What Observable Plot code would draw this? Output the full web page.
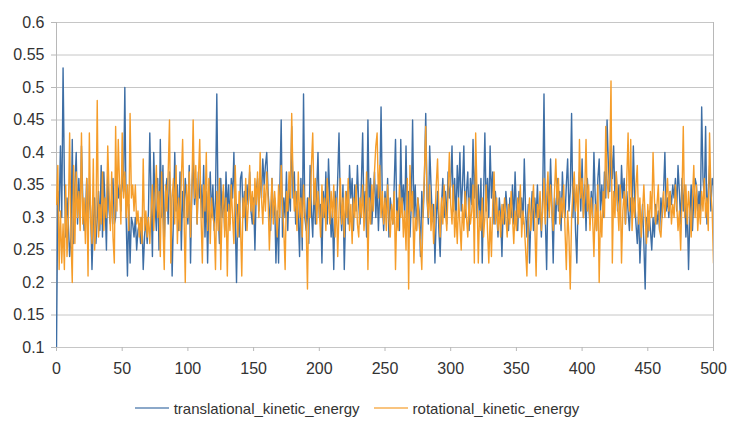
<!DOCTYPE html>
<html>
<head>
<meta charset="utf-8">
<script src="https://cdn.jsdelivr.net/npm/d3@7"></script>
<script src="https://cdn.jsdelivr.net/npm/@observablehq/plot@0.6"></script>
<style>
  html, body { margin: 0; padding: 0; background: #fff; }
  body { width: 740px; height: 421px; overflow: hidden; font-family: "Liberation Sans", Arial, sans-serif; }
  #legend { display: flex; justify-content: center; align-items: center; gap: 14px; height: 20px; margin-top: 15px; padding-right: 26px; font-size: 15px; color: #333; }
  #legend .item { display: flex; align-items: center; gap: 5px; }
  #legend .swatch { width: 34px; height: 2px; opacity: 0.6; }
</style>
</head>
<body>
<div id="chart"></div>
<div id="legend"></div>
<script>
const seriesNames = ["translational_kinetic_energy", "rotational_kinetic_energy"];
const seriesColors = ["#3d6ea5", "#f59d2a"];
const xTicks = [0, 50, 100, 150, 200, 250, 300, 350, 400, 450, 500];
const yTicks = [0.1, 0.15, 0.2, 0.25, 0.3, 0.35, 0.4, 0.45, 0.5, 0.55, 0.6];

const translational = [
0.10,0.34,0.31,0.41,0.30,0.53,0.36,0.27,0.33,0.29,
0.24,0.27,0.42,0.26,0.35,0.40,0.29,0.36,0.30,0.41,
0.33,0.28,0.30,0.36,0.27,0.35,0.31,0.22,0.29,0.33,
0.26,0.30,0.34,0.28,0.38,0.27,0.37,0.32,0.25,0.37,
0.31,0.29,0.33,0.36,0.29,0.30,0.37,0.33,0.35,0.31,
0.37,0.34,0.50,0.30,0.21,0.32,0.23,0.30,0.29,0.27,
0.30,0.25,0.28,0.29,0.26,0.30,0.22,0.27,0.30,0.26,
0.31,0.43,0.33,0.24,0.40,0.32,0.28,0.36,0.25,0.42,
0.30,0.38,0.26,0.34,0.36,0.29,0.37,0.33,0.21,0.30,
0.40,0.31,0.35,0.28,0.37,0.25,0.34,0.30,0.36,0.33,
0.29,0.38,0.23,0.34,0.39,0.32,0.36,0.29,0.37,0.33,
0.35,0.30,0.38,0.27,0.34,0.23,0.33,0.37,0.30,0.35,
0.28,0.33,0.49,0.31,0.26,0.36,0.30,0.34,0.28,0.37,
0.31,0.35,0.29,0.36,0.33,0.40,0.30,0.20,0.32,0.27,
0.36,0.37,0.30,0.34,0.28,0.35,0.32,0.37,0.31,0.29,
0.33,0.25,0.34,0.36,0.31,0.37,0.33,0.39,0.35,0.38,
0.40,0.34,0.31,0.28,0.36,0.30,0.33,0.23,0.31,0.23,
0.35,0.45,0.27,0.33,0.30,0.37,0.28,0.35,0.31,0.44,
0.33,0.37,0.29,0.34,0.30,0.24,0.36,0.25,0.49,0.30,
0.28,0.33,0.26,0.38,0.31,0.27,0.35,0.29,0.34,0.40,
0.30,0.32,0.23,0.34,0.30,0.37,0.29,0.39,0.33,0.27,
0.31,0.22,0.34,0.30,0.36,0.43,0.32,0.28,0.35,0.22,
0.30,0.34,0.29,0.38,0.33,0.36,0.28,0.35,0.31,0.38,
0.32,0.29,0.35,0.43,0.30,0.34,0.27,0.45,0.31,0.36,
0.29,0.33,0.37,0.30,0.35,0.28,0.34,0.47,0.32,0.28,
0.34,0.30,0.36,0.27,0.33,0.31,0.29,0.35,0.42,0.30,
0.33,0.28,0.42,0.31,0.35,0.30,0.41,0.29,0.34,0.27,
0.32,0.45,0.30,0.35,0.28,0.33,0.31,0.24,0.34,0.30,
0.36,0.46,0.33,0.29,0.41,0.35,0.30,0.32,0.23,0.30,
0.34,0.28,0.24,0.32,0.36,0.30,0.34,0.29,0.37,0.33,
0.35,0.41,0.31,0.36,0.29,0.38,0.33,0.40,0.31,0.35,
0.41,0.30,0.34,0.37,0.28,0.36,0.32,0.42,0.33,0.38,
0.30,0.35,0.29,0.36,0.23,0.33,0.43,0.31,0.36,0.30,
0.41,0.33,0.37,0.29,0.34,0.31,0.27,0.33,0.30,0.24,
0.32,0.29,0.34,0.31,0.28,0.33,0.30,0.35,0.29,0.37,
0.31,0.28,0.34,0.30,0.33,0.29,0.39,0.31,0.27,0.32,
0.23,0.30,0.34,0.28,0.33,0.30,0.35,0.29,0.32,0.27,
0.33,0.49,0.30,0.22,0.34,0.31,0.39,0.32,0.23,0.33,
0.29,0.36,0.31,0.34,0.28,0.37,0.32,0.30,0.35,0.39,
0.31,0.34,0.46,0.30,0.36,0.28,0.23,0.33,0.37,0.31,
0.39,0.30,0.35,0.28,0.36,0.32,0.29,0.34,0.30,0.40,
0.33,0.28,0.36,0.39,0.31,0.35,0.30,0.37,0.33,0.45,
0.38,0.34,0.41,0.36,0.41,0.33,0.37,0.31,0.35,0.30,
0.38,0.33,0.36,0.29,0.34,0.31,0.28,0.33,0.30,0.41,
0.33,0.29,0.26,0.31,0.23,0.28,0.32,0.26,0.19,0.30,
0.27,0.31,0.28,0.25,0.30,0.27,0.32,0.29,0.31,0.28,
0.33,0.30,0.34,0.40,0.31,0.33,0.30,0.34,0.32,0.35,
0.33,0.36,0.31,0.38,0.34,0.29,0.36,0.31,0.35,0.27,
0.32,0.22,0.30,0.35,0.28,0.33,0.36,0.35,0.31,0.34,
0.30,0.47,0.36,0.33,0.44,0.29,0.34,0.38,0.31,0.36,0.35
];

const rotational = [
0.32,0.38,0.22,0.31,0.23,0.29,0.22,0.35,0.24,0.30,
0.43,0.27,0.20,0.38,0.26,0.37,0.30,0.34,0.28,0.43,
0.29,0.33,0.26,0.36,0.21,0.43,0.30,0.26,0.39,0.25,
0.29,0.48,0.27,0.32,0.29,0.37,0.28,0.33,0.30,0.41,
0.34,0.28,0.37,0.27,0.23,0.44,0.31,0.42,0.35,0.29,
0.43,0.33,0.37,0.30,0.35,0.28,0.46,0.33,0.35,0.31,
0.35,0.29,0.31,0.27,0.30,0.26,0.39,0.28,0.31,0.27,
0.30,0.26,0.31,0.35,0.28,0.33,0.38,0.30,0.34,0.24,
0.37,0.29,0.22,0.35,0.31,0.37,0.45,0.23,0.33,0.36,
0.29,0.38,0.26,0.33,0.28,0.36,0.42,0.31,0.20,0.35,
0.30,0.37,0.27,0.34,0.45,0.33,0.38,0.29,0.36,0.42,
0.30,0.23,0.35,0.31,0.40,0.28,0.36,0.26,0.33,0.30,
0.29,0.22,0.34,0.28,0.36,0.22,0.31,0.35,0.27,0.33,
0.21,0.32,0.28,0.35,0.30,0.26,0.38,0.31,0.27,0.34,
0.29,0.21,0.33,0.30,0.36,0.28,0.32,0.38,0.31,0.34,
0.29,0.36,0.32,0.37,0.30,0.40,0.33,0.29,0.35,0.31,
0.37,0.33,0.25,0.31,0.36,0.29,0.34,0.31,0.27,0.35,
0.30,0.38,0.32,0.28,0.22,0.34,0.31,0.37,0.33,0.46,
0.36,0.31,0.34,0.28,0.37,0.30,0.33,0.27,0.35,0.31,
0.29,0.19,0.33,0.30,0.38,0.43,0.32,0.36,0.29,0.34,
0.31,0.27,0.35,0.30,0.33,0.28,0.36,0.32,0.29,0.34,
0.30,0.35,0.27,0.33,0.24,0.31,0.36,0.29,0.33,0.27,
0.34,0.30,0.36,0.28,0.32,0.26,0.33,0.30,0.35,0.29,
0.27,0.33,0.30,0.35,0.28,0.31,0.37,0.22,0.33,0.29,
0.35,0.31,0.37,0.41,0.43,0.33,0.38,0.30,0.34,0.29,
0.33,0.28,0.35,0.30,0.27,0.32,0.29,0.34,0.22,0.31,
0.28,0.35,0.30,0.33,0.27,0.31,0.25,0.36,0.19,0.38,
0.31,0.34,0.23,0.30,0.28,0.33,0.29,0.26,0.22,0.31,
0.37,0.44,0.33,0.30,0.35,0.28,0.32,0.26,0.30,0.35,
0.39,0.31,0.27,0.33,0.29,0.35,0.31,0.28,0.34,0.40,
0.32,0.29,0.35,0.27,0.31,0.26,0.33,0.29,0.25,0.32,
0.28,0.34,0.30,0.27,0.33,0.29,0.31,0.35,0.23,0.43,
0.34,0.23,0.31,0.28,0.33,0.27,0.30,0.35,0.28,0.23,
0.30,0.24,0.32,0.37,0.29,0.33,0.28,0.31,0.27,0.32,
0.29,0.33,0.30,0.27,0.32,0.29,0.34,0.30,0.26,0.31,
0.28,0.33,0.30,0.35,0.27,0.31,0.29,0.25,0.21,0.30,
0.33,0.28,0.31,0.35,0.29,0.21,0.32,0.30,0.34,0.28,
0.31,0.36,0.29,0.33,0.37,0.30,0.35,0.31,0.28,0.34,
0.39,0.32,0.36,0.29,0.33,0.30,0.35,0.28,0.22,0.31,
0.27,0.19,0.30,0.34,0.37,0.31,0.35,0.29,0.42,0.33,
0.36,0.30,0.34,0.42,0.31,0.35,0.28,0.33,0.30,0.24,
0.32,0.28,0.35,0.20,0.31,0.27,0.34,0.30,0.44,0.36,
0.33,0.38,0.51,0.23,0.34,0.30,0.37,0.32,0.28,0.35,
0.23,0.31,0.34,0.29,0.36,0.43,0.31,0.42,0.28,0.33,
0.30,0.35,0.38,0.29,0.33,0.27,0.31,0.35,0.30,0.26,
0.32,0.28,0.34,0.30,0.40,0.33,0.29,0.32,0.35,0.28,
0.27,0.31,0.34,0.30,0.33,0.36,0.31,0.34,0.29,0.32,
0.30,0.35,0.32,0.28,0.31,0.25,0.33,0.44,0.30,0.35,
0.29,0.34,0.31,0.27,0.33,0.38,0.30,0.35,0.28,0.32,
0.29,0.34,0.31,0.36,0.30,0.33,0.28,0.43,0.34,0.31,0.23
];

const rows = [
  ...translational.map((v, i) => ({i, v, s: seriesNames[0]})),
  ...rotational.map((v, i) => ({i, v, s: seriesNames[1]}))
];

const chart = Plot.plot({
  width: 740,
  height: 383,
  marginLeft: 56,
  marginRight: 27,
  marginTop: 22,
  marginBottom: 36,
  style: {fontFamily: "'Liberation Sans', Arial, sans-serif", fontSize: "16px", color: "#333", background: "#fff"},
  x: {domain: [0, 500]},
  y: {domain: [0.1, 0.6]},
  color: {domain: seriesNames, range: seriesColors},
  marks: [
    Plot.ruleY(yTicks, {stroke: "#c6c6c6", strokeWidth: 1}),
    Plot.ruleX([0, 500], {stroke: "#b8b8b8", strokeWidth: 1}),
    Plot.axisY({ticks: yTicks, tickSize: 5, tickPadding: 7, tickFormat: d => String(d), stroke: "#b8b8b8", fill: "#333", label: null}),
    Plot.axisX({ticks: xTicks, tickSize: 4, tickPadding: 11, tickFormat: d => String(d), stroke: "#b8b8b8", fill: "#333", label: null}),
    Plot.line(rows, {x: "i", y: "v", z: "s", stroke: "s", strokeWidth: 1.4, clip: true})
  ]
});
document.getElementById("chart").appendChild(chart);

const legend = document.getElementById("legend");
seriesNames.forEach((name, k) => {
  const item = document.createElement("div");
  item.className = "item";
  const sw = document.createElement("span");
  sw.className = "swatch";
  sw.style.background = seriesColors[k];
  const label = document.createElement("span");
  label.textContent = name;
  item.appendChild(sw);
  item.appendChild(label);
  legend.appendChild(item);
});
</script>
</body>
</html>
